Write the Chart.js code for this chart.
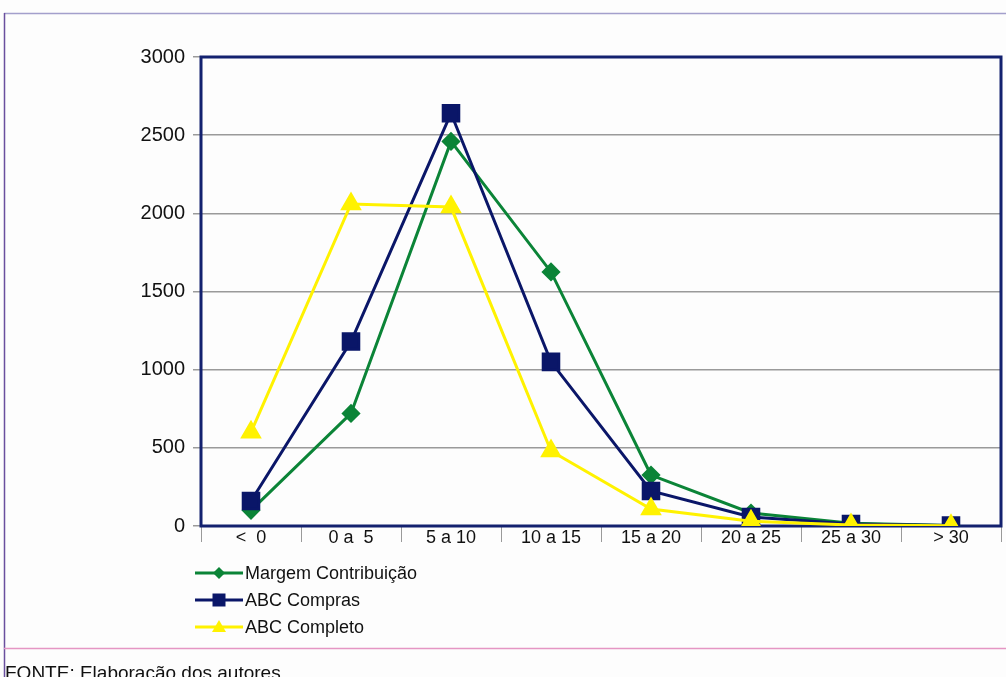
<!DOCTYPE html>
<html lang="pt">

<head>
  <meta charset="UTF-8">
  <title>Grafico</title>
  <script src="https://cdn.jsdelivr.net/npm/chart.js"></script>
  <style>
    body {
      margin: 0;
      padding: 0;
      background: #fdfdfd;
    }

    #wrap {
      position: relative;
      width: 1006px;
      height: 677px;
    }
  </style>
</head>

<body>
  <div id="wrap">
    <canvas id="chart"></canvas>
  </div>
  <script>
    // dados
    const faixas = ['<  0', '0 a  5', '5 a 10', '10 a 15', '15 a 20', '20 a 25', '25 a 30', '> 30'];
    const margemContribuicao = [100, 720, 2460, 1625, 326, 83, 17, 3];
    const abcCompras = [160, 1180, 2640, 1050, 224, 58, 13, 3];
    const abcCompleto = [600, 2060, 2040, 480, 109, 30, 6, 2];
    const yTicks = [0, 500, 1000, 1500, 2000, 2500, 3000];

    const fonte = 'Arial, "Liberation Sans", sans-serif';
    const cores = {
      verde: '#0b8437',
      azul: '#0a1668',
      amarelo: '#fff200',
      moldura: '#13216f',
      grade: '#9a9a9a'
    };

    // desenha marcador simples (legenda)
    function marcador(ctx, tipo, x, y, cor) {
      ctx.fillStyle = cor;
      ctx.beginPath();
      if (tipo === 'rectRot') {
        ctx.moveTo(x, y - 6);
        ctx.lineTo(x + 6, y);
        ctx.lineTo(x, y + 6);
        ctx.lineTo(x - 6, y);
      } else if (tipo === 'rect') {
        ctx.rect(x - 6.5, y - 6.5, 13, 13);
      } else {
        ctx.moveTo(x, y - 7);
        ctx.lineTo(x + 7, y + 5);
        ctx.lineTo(x - 7, y + 5);
      }
      ctx.closePath();
      ctx.fill();
    }

    const molduraPlugin = {
      id: 'moldura',
      beforeDraw(chart) {
        const ctx = chart.ctx;
        ctx.save();
        ctx.lineWidth = 1.5;
        ctx.strokeStyle = '#a39fcc';
        ctx.beginPath();
        ctx.moveTo(4, 13.5);
        ctx.lineTo(1006, 13.5);
        ctx.stroke();
        ctx.strokeStyle = '#6a4f9e';
        ctx.beginPath();
        ctx.moveTo(4.5, 13);
        ctx.lineTo(4.5, 677);
        ctx.stroke();
        ctx.strokeStyle = '#e596c4';
        ctx.beginPath();
        ctx.moveTo(4, 648.5);
        ctx.lineTo(1006, 648.5);
        ctx.stroke();
        ctx.fillStyle = '#111';
        ctx.font = '19px ' + fonte;
        ctx.textBaseline = 'alphabetic';
        ctx.fillText('FONTE: Elaboração dos autores', 5, 679);
        ctx.restore();
      },
      beforeDatasetsDraw(chart) {
        const a = chart.chartArea;
        const ctx = chart.ctx;
        ctx.save();
        ctx.lineWidth = 3;
        ctx.strokeStyle = cores.moldura;
        ctx.strokeRect(a.left, a.top, a.right - a.left, a.bottom - a.top);
        ctx.restore();
      },
      afterDraw(chart) {
        const ctx = chart.ctx;
        ctx.save();
        ctx.font = '18px ' + fonte;
        ctx.textBaseline = 'middle';
        chart.data.datasets.forEach((ds, i) => {
          const y = 573 + i * 27;
          ctx.strokeStyle = ds.borderColor;
          ctx.lineWidth = 3;
          ctx.beginPath();
          ctx.moveTo(195, y);
          ctx.lineTo(243, y);
          ctx.stroke();
          marcador(ctx, ds.pointStyle, 219, y, ds.borderColor);
          ctx.fillStyle = '#111';
          ctx.fillText(ds.label, 245, y + 1);
        });
        ctx.restore();
      }
    };

    new Chart(document.getElementById('chart'), {
      type: 'line',
      data: {
        labels: faixas,
        datasets: [
          {
            label: 'Margem Contribuição',
            data: margemContribuicao,
            borderColor: cores.verde,
            backgroundColor: cores.verde,
            pointStyle: 'rectRot',
            pointRadius: 7.5,
            borderWidth: 3,
            order: 3
          },
          {
            label: 'ABC Compras',
            data: abcCompras,
            borderColor: cores.azul,
            backgroundColor: cores.azul,
            pointStyle: 'rect',
            pointRadius: 11,
            borderWidth: 3,
            order: 2
          },
          {
            label: 'ABC Completo',
            data: abcCompleto,
            borderColor: cores.amarelo,
            backgroundColor: cores.amarelo,
            pointStyle: 'triangle',
            pointRadius: 9.5,
            borderWidth: 3,
            order: 1
          }
        ]
      },
      options: {
        responsive: true,
        maintainAspectRatio: false,
        animation: false,
        layout: {
          autoPadding: false,
          padding: { left: 0, right: 5, top: 57, bottom: 0 }
        },
        elements: {
          line: { tension: 0 },
          point: { borderWidth: 0, hoverRadius: 9 }
        },
        plugins: {
          legend: { display: false },
          tooltip: { enabled: false }
        },
        scales: {
          x: {
            offset: true,
            grid: {
              offset: true,
              drawOnChartArea: false,
              tickLength: 16,
              color: cores.grade,
              lineWidth: 1
            },
            border: { display: false },
            ticks: {
              color: '#111',
              padding: -15,
              maxRotation: 0,
              autoSkip: false,
              font: { family: fonte, size: 18 }
            },
            afterFit(axis) {
              axis.height = 151;
              axis.paddingLeft = 0;
              axis.paddingRight = 0;
            }
          },
          y: {
            min: 0,
            max: 3000,
            afterBuildTicks(axis) {
              axis.ticks = yTicks.map(v => ({ value: v }));
            },
            grid: {
              color: cores.grade,
              lineWidth: 1.5,
              tickLength: 8
            },
            border: { display: false },
            ticks: {
              color: '#111',
              padding: 8,
              font: { family: fonte, size: 20 },
              callback: (v) => String(v)
            },
            afterFit(axis) {
              axis.width = 201;
              axis.paddingTop = 0;
              axis.paddingBottom = 0;
            }
          }
        }
      },
      plugins: [molduraPlugin]
    });
  </script>
</body>

</html>
